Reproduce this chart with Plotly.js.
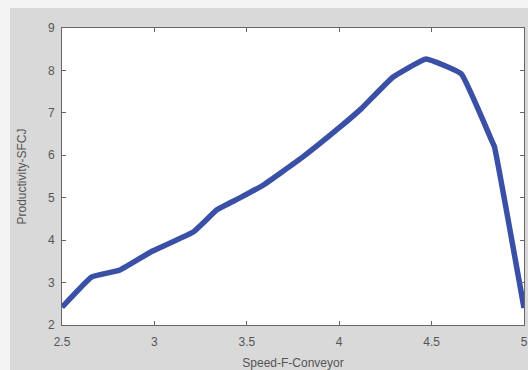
<!DOCTYPE html>
<html><head><meta charset="utf-8">
<script src="https://cdn.plot.ly/plotly-3.0.1.min.js"></script>
<style>html,body{margin:0;padding:0;background:#fff}</style>
</head><body><div id="chart" style="width:528px;height:370px"></div>
<script>
const speed = [2.5, 2.66, 2.81, 2.98, 3.21, 3.34, 3.46, 3.59, 3.8, 4.0, 4.12, 4.29, 4.47, 4.66, 4.82, 4.84, 5.0];
const productivity = [2.42, 3.13, 3.29, 3.72, 4.19, 4.72, 4.99, 5.30, 5.95, 6.65, 7.1, 7.84, 8.27, 7.92, 6.4, 6.2, 2.4];
const xTicks = [2.5, 3, 3.5, 4, 4.5, 5];
const yTicks = [2, 3, 4, 5, 6, 7, 8, 9];

Plotly.newPlot('chart', [{
  x: speed, y: productivity, mode: 'lines', type: 'scatter',
  line: {color: '#3a50a6', width: 5.5, shape: 'spline', smoothing: 0.3}
}], {
  width: 528, height: 370,
  paper_bgcolor: '#d9d9d9', plot_bgcolor: '#ffffff',
  margin: {l: 62, r: 4, t: 28, b: 45},
  showlegend: false,
  font: {family: 'Liberation Sans, Arial, sans-serif', size: 12, color: '#555'},
  shapes: [
    {type: 'rect', xref: 'paper', yref: 'paper', x0: -0.14, x1: 1.02, y0: 1.0673, y1: 1.1, layer: 'above', fillcolor: '#f4f4f4', line: {width: 0}},
    {type: 'rect', xref: 'paper', yref: 'paper', x0: -0.14, x1: -0.1126, y0: -0.16, y1: 1.1, layer: 'above', fillcolor: '#f4f4f4', line: {width: 0}}
  ],
  xaxis: {
    range: [2.5, 5], tickvals: xTicks, ticktext: xTicks.map(String),
    ticks: 'inside', ticklen: 4, tickcolor: '#666', mirror: 'ticks',
    showline: true, linecolor: '#666', linewidth: 1, showgrid: false, zeroline: false,
    ticklabelstandoff: 6,
    title: {text: 'Speed-F-Conveyor', font: {size: 12, color: '#555'}, standoff: 10}
  },
  yaxis: {
    range: [2, 9], tickvals: yTicks, ticktext: yTicks.map(String),
    ticks: 'inside', ticklen: 4, tickcolor: '#666', mirror: 'ticks',
    showline: true, linecolor: '#666', linewidth: 1, showgrid: false, zeroline: false,
    ticklabelstandoff: 4,
    title: {text: 'Productivity-SFCJ', font: {size: 12, color: '#555'}, standoff: 18}
  }
}, {displayModeBar: false, staticPlot: true});
</script></body></html>
